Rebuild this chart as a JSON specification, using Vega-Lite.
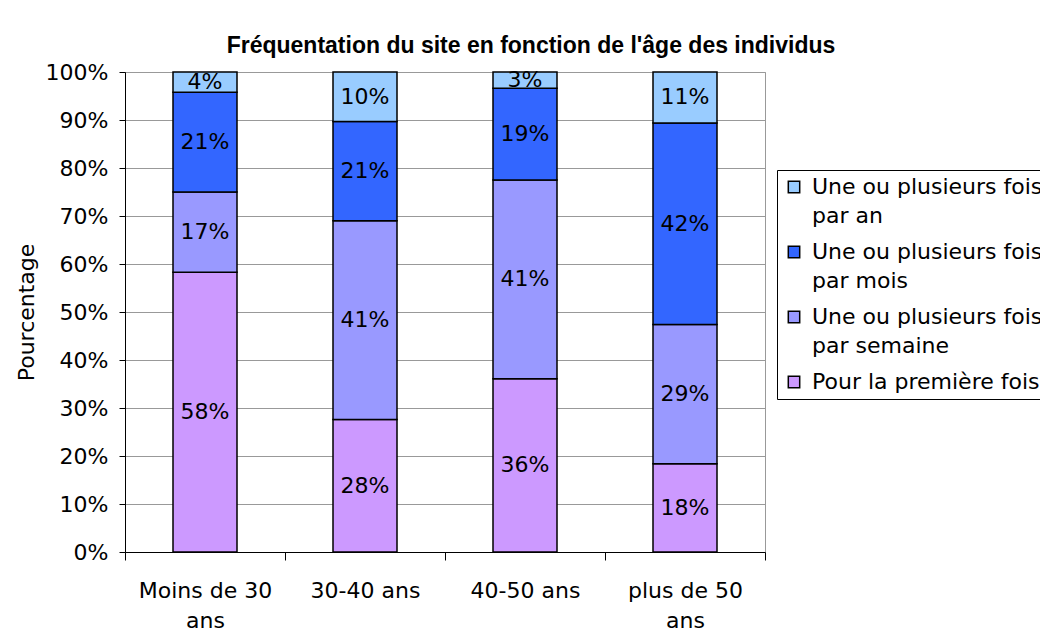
{
  "$schema": "https://vega.github.io/schema/vega-lite/v6.json",
  "width": 640,
  "height": 480,
  "autosize": "none",
  "padding": {"left": 125, "top": 72, "right": 275, "bottom": 85},
  "background": "white",
  "title": {
    "text": "Fréquentation du site en fonction de l'âge des individus",
    "font": "Liberation Sans",
    "fontSize": 23,
    "fontWeight": "bold",
    "color": "black",
    "anchor": "middle",
    "dx": 86,
    "offset": 3
  },
  "data": {
    "values": [
      {"age": "Moins de 30 ans", "freq": "Pour la première fois", "rang": 1, "value": 0.583},
      {"age": "Moins de 30 ans", "freq": "Une ou plusieurs fois par semaine", "rang": 2, "value": 0.167},
      {"age": "Moins de 30 ans", "freq": "Une ou plusieurs fois par mois", "rang": 3, "value": 0.208},
      {"age": "Moins de 30 ans", "freq": "Une ou plusieurs fois par an", "rang": 4, "value": 0.042},
      {"age": "30-40 ans", "freq": "Pour la première fois", "rang": 1, "value": 0.276},
      {"age": "30-40 ans", "freq": "Une ou plusieurs fois par semaine", "rang": 2, "value": 0.414},
      {"age": "30-40 ans", "freq": "Une ou plusieurs fois par mois", "rang": 3, "value": 0.207},
      {"age": "30-40 ans", "freq": "Une ou plusieurs fois par an", "rang": 4, "value": 0.103},
      {"age": "40-50 ans", "freq": "Pour la première fois", "rang": 1, "value": 0.361},
      {"age": "40-50 ans", "freq": "Une ou plusieurs fois par semaine", "rang": 2, "value": 0.414},
      {"age": "40-50 ans", "freq": "Une ou plusieurs fois par mois", "rang": 3, "value": 0.191},
      {"age": "40-50 ans", "freq": "Une ou plusieurs fois par an", "rang": 4, "value": 0.034},
      {"age": "plus de 50 ans", "freq": "Pour la première fois", "rang": 1, "value": 0.184},
      {"age": "plus de 50 ans", "freq": "Une ou plusieurs fois par semaine", "rang": 2, "value": 0.29},
      {"age": "plus de 50 ans", "freq": "Une ou plusieurs fois par mois", "rang": 3, "value": 0.42},
      {"age": "plus de 50 ans", "freq": "Une ou plusieurs fois par an", "rang": 4, "value": 0.106}
    ]
  },
  "encoding": {
    "x": {
      "field": "age",
      "type": "nominal",
      "sort": ["Moins de 30 ans", "30-40 ans", "40-50 ans", "plus de 50 ans"],
      "scale": {"paddingInner": 0, "paddingOuter": 0},
      "axis": {
        "title": null,
        "labelAngle": 0,
        "tickBand": "extent",
        "tickSize": 8,
        "tickColor": "black",
        "domainColor": "black",
        "grid": false,
        "labelFont": "DejaVu Sans",
        "labelFontSize": 22,
        "labelColor": "black",
        "labelPadding": 20,
        "labelBaseline": "top",
        "labelLineHeight": 30,
        "labelExpr": "datum.label == 'Moins de 30 ans' ? ['Moins de 30', 'ans'] : datum.label == 'plus de 50 ans' ? ['plus de 50', 'ans'] : datum.label"
      }
    },
    "y": {
      "field": "value",
      "type": "quantitative",
      "stack": "zero",
      "scale": {"domain": [0, 1], "nice": false},
      "axis": {
        "title": "Pourcentage",
        "format": ".0%",
        "values": [0, 0.1, 0.2, 0.3, 0.4, 0.5, 0.6, 0.7, 0.8, 0.9, 1],
        "tickSize": 6,
        "tickColor": "black",
        "domainColor": "black",
        "gridColor": "#999999",
        "labelFont": "DejaVu Sans",
        "labelFontSize": 22,
        "labelColor": "black",
        "labelPadding": 11,
        "titleFont": "DejaVu Sans",
        "titleFontSize": 22,
        "titleFontWeight": "normal",
        "titleColor": "black",
        "titlePadding": 7
      }
    },
    "order": {"field": "rang", "type": "quantitative"}
  },
  "layer": [
    {
      "mark": {"type": "bar", "width": {"band": 0.4}, "stroke": "black", "strokeWidth": 1.5},
      "encoding": {
        "color": {
          "field": "freq",
          "type": "nominal",
          "scale": {
            "domain": ["Une ou plusieurs fois par an", "Une ou plusieurs fois par mois", "Une ou plusieurs fois par semaine", "Pour la première fois"],
            "range": ["#99CCFF", "#3366FF", "#9999FF", "#CC99FF"]
          },
          "legend": {
            "title": null,
            "orient": "none",
            "legendX": 652,
            "legendY": 98,
            "strokeColor": "black",
            "padding": 6,
            "symbolType": "square",
            "symbolSize": 130,
            "symbolStrokeColor": "black",
            "symbolStrokeWidth": 1.5,
            "symbolOpacity": 1,
            "labelFont": "DejaVu Sans",
            "labelFontSize": 22,
            "labelColor": "black",
            "labelOffset": 7,
            "labelLimit": 400,
            "rowPadding": 14,
            "labelExpr": "datum.label == 'Une ou plusieurs fois par an' ? ['Une ou plusieurs fois', 'par an'] : datum.label == 'Une ou plusieurs fois par mois' ? ['Une ou plusieurs fois', 'par mois'] : datum.label == 'Une ou plusieurs fois par semaine' ? ['Une ou plusieurs fois', 'par semaine'] : datum.label"
          }
        }
      }
    },
    {
      "mark": {"type": "text", "font": "DejaVu Sans", "fontSize": 22, "color": "black"},
      "encoding": {
        "y": {"field": "value", "type": "quantitative", "stack": "zero", "bandPosition": 0.5},
        "detail": {"field": "freq"},
        "text": {"field": "value", "type": "quantitative", "format": ".0%"}
      }
    }
  ],
  "config": {
    "view": {"stroke": "#999999"},
    "style": {"guide-label": {"lineHeight": 29}}
  }
}
